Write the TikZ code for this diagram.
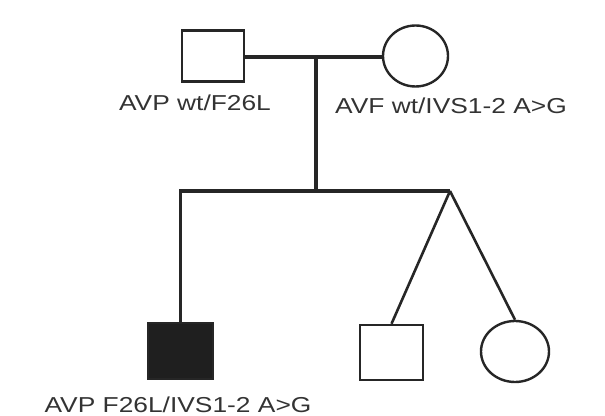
\documentclass[tikz,border=0pt]{standalone}
\usepackage{fontspec}
\setmainfont{Liberation Sans}
\usepackage{graphicx}
\usetikzlibrary{shapes.geometric, calc}

\newcommand{\widelbl}[1]{\scalebox{1.22}[1]{#1}}

\begin{document}
\begin{tikzpicture}[
    x=0.5pt, y=-0.5pt,
    male/.style={draw=black!85, line width=1.2pt, rectangle, inner sep=0pt},
    female/.style={draw=black!85, line width=1.2pt, ellipse, inner sep=0pt},
    affected/.style={fill=black!88},
    link/.style={draw=black!85, line width=1.6pt},
    twinleg/.style={draw=black!85, line width=1.3pt},
    lbl/.style={font=\fontsize{10.8}{13}\selectfont, text=black!80, inner sep=0pt}
  ]
  \useasboundingbox (0,0) rectangle (605,416);

  % parents
  \node[male, minimum width=31pt, minimum height=25.5pt] (father) at (213,56) {};
  \node[female, minimum width=32.5pt, minimum height=30.5pt] (mother) at (415.5,56) {};
  \node[lbl] (fatherlbl) at (195,103) {\widelbl{AVP wt/F26L}};
  \node[lbl] (motherlbl) at (451,106) {\widelbl{AVF wt/IVS1-2 A>G}};

  % children
  \node[male, affected, minimum width=32.5pt, minimum height=28pt] (proband) at (180.5,351) {};
  \node[male, minimum width=31.5pt, minimum height=27.5pt] (twinboy) at (391.5,352.5) {};
  \node[female, minimum width=34pt, minimum height=30.5pt] (twingirl) at (515,351.5) {};
  \node[lbl] (probandlbl) at (178,405) {\widelbl{AVP F26L/IVS1-2 A>G}};

  \coordinate (couple) at (316,57);
  \coordinate (sibs) at (316,191);
  \coordinate (apex) at (450,191);

  \draw[link] (father.east |- couple) -- (mother.west |- couple);
  \draw[link] (couple) -- (sibs);
  \draw[link] (proband.north) |- (apex);
  \draw[twinleg] (apex) -- (twinboy.north);
  \draw[twinleg] (apex) -- (twingirl.north);
\end{tikzpicture}
\end{document}
